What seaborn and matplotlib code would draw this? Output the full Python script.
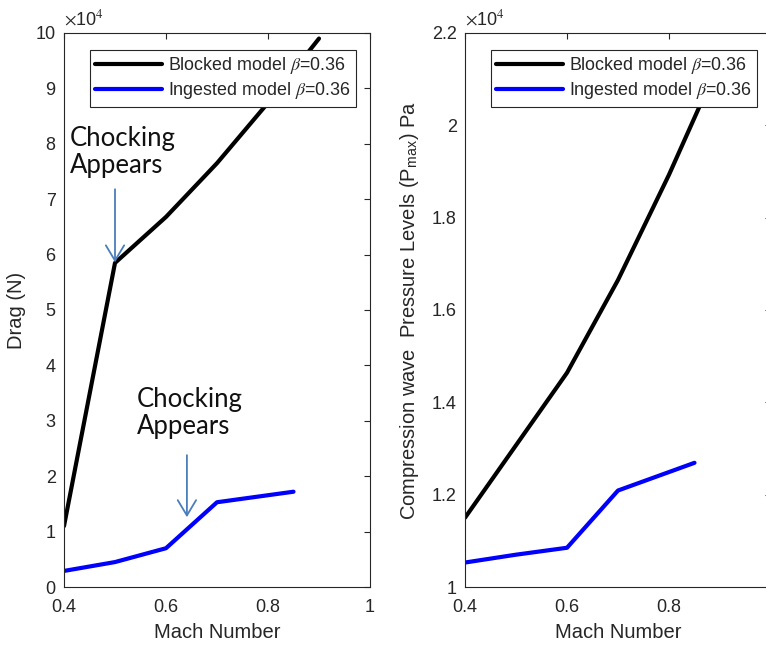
import matplotlib
matplotlib.use("Agg")
import matplotlib.pyplot as plt
from matplotlib.ticker import FuncFormatter, FixedLocator
import seaborn as sns
import pandas as pd

# ---- data ----
mach_blocked_drag = [0.4, 0.5, 0.6, 0.7, 0.8, 0.9]
drag_blocked = [11000, 58500, 66800, 76500, 87400, 99000]
mach_ingested_drag = [0.4, 0.5, 0.6, 0.7, 0.85]
drag_ingested = [2900, 4500, 7000, 15300, 17200]

mach_blocked_p = [0.4, 0.5, 0.6, 0.7, 0.8, 0.9]
p_blocked = [11500, 13070, 14640, 16650, 18930, 21400]
mach_ingested_p = [0.4, 0.5, 0.6, 0.7, 0.85]
p_ingested = [10530, 10700, 10850, 12090, 12690]

series_labels = [r"Blocked model $\beta$=0.36", r"Ingested model $\beta$=0.36"]
left_xticks = [0.4, 0.6, 0.8, 1.0]
left_yticks = [0, 10000, 20000, 30000, 40000, 50000, 60000, 70000, 80000, 90000, 100000]
right_xticks = [0.4, 0.6, 0.8, 1.0]
right_yticks = [10000, 12000, 14000, 16000, 18000, 20000, 22000]

sns.set_style("white")
plt.rcParams["font.family"] = ["Liberation Sans", "DejaVu Sans"]
plt.rcParams["mathtext.fontset"] = "stix"

W, H = 766, 648
fig = plt.figure(figsize=(W / 100, H / 100), dpi=100)
ax1 = fig.add_axes([64 / W, 1 - 587 / H, 306 / W, 554 / H])
ax2 = fig.add_axes([465 / W, 1 - 587 / H, 306 / W, 554 / H])

palette = {series_labels[0]: "#000000", series_labels[1]: "#0000FF"}

df1 = pd.DataFrame({
    "Mach": mach_blocked_drag + mach_ingested_drag,
    "val": drag_blocked + drag_ingested,
    "series": [series_labels[0]] * len(mach_blocked_drag) + [series_labels[1]] * len(mach_ingested_drag),
})
df2 = pd.DataFrame({
    "Mach": mach_blocked_p + mach_ingested_p,
    "val": p_blocked + p_ingested,
    "series": [series_labels[0]] * len(mach_blocked_p) + [series_labels[1]] * len(mach_ingested_p),
})

gray = "#262626"
for ax, df, xt, yt, ylim in [
    (ax1, df1, left_xticks, left_yticks, (0, 100000)),
    (ax2, df2, right_xticks, right_yticks, (10000, 22000)),
]:
    sns.lineplot(data=df, x="Mach", y="val", hue="series", palette=palette,
                 estimator=None, sort=False, linewidth=3.0, ax=ax)
    ax.set_xlim(0.4, 1.0)
    ax.set_ylim(*ylim)
    ax.xaxis.set_major_locator(FixedLocator(xt))
    ax.yaxis.set_major_locator(FixedLocator(yt))
    ax.xaxis.set_major_formatter(FuncFormatter(lambda v, p: f"{v:g}"))
    ax.yaxis.set_major_formatter(FuncFormatter(lambda v, p: f"{v / 1e4:g}"))
    ax.tick_params(direction="in", length=4, width=0.8, colors=gray,
                   labelsize=13, top=True, right=True)
    ax.tick_params(axis="x", pad=9)
    ax.tick_params(axis="y", pad=6)
    for s in ax.spines.values():
        s.set_visible(True)
        s.set_color(gray)
        s.set_linewidth(0.8)
    ax.set_xlabel("Mach Number", fontsize=14.5, color=gray, labelpad=5)
    leg = ax.legend(loc="upper right", fontsize=12.9, frameon=True, fancybox=False,
                    framealpha=1, edgecolor=gray, handlelength=3.7, handletextpad=0.35,
                    labelspacing=0.22, borderpad=0.3, borderaxespad=0.0,
                    bbox_to_anchor=(292 / 306, 537 / 554))
    leg.get_frame().set_linewidth(0.8)
    for line in leg.get_lines():
        line.set_linewidth(3.0)
    ax.text(0.0, 1.008, r"$\times$10$^4$", transform=ax.transAxes, fontsize=13,
            color=gray, ha="left", va="bottom")

ax1.set_ylabel("Drag (N)", fontsize=14.5, color=gray, labelpad=7)
ax2.set_ylabel(r"Compression wave  Pressure Levels (P$_{\mathregular{max}}$) Pa",
               fontsize=14.5, color=gray, labelpad=8)

arrow_col = "#4a7ebb"
ann_font = ["Lato", "DejaVu Sans"]
arrow_style = "->,head_length=0.55,head_width=0.33"
ax1.text(0.412, 83300, "Chocking\nAppears", fontsize=18.5, family=ann_font,
         color="#111111", ha="left", va="top", linespacing=1.1)
ax1.annotate("", xy=(0.5, 58600), xytext=(0.5, 71800),
             arrowprops=dict(arrowstyle=arrow_style, mutation_scale=20,
                             color=arrow_col, lw=1.3, shrinkA=0, shrinkB=0))
ax1.text(0.543, 36100, "Chocking\nAppears", fontsize=18.5, family=ann_font,
         color="#111111", ha="left", va="top", linespacing=1.1)
ax1.annotate("", xy=(0.641, 12600), xytext=(0.641, 23800),
             arrowprops=dict(arrowstyle=arrow_style, mutation_scale=20,
                             color=arrow_col, lw=1.3, shrinkA=0, shrinkB=0))

fig.savefig("out.png", dpi=100)
